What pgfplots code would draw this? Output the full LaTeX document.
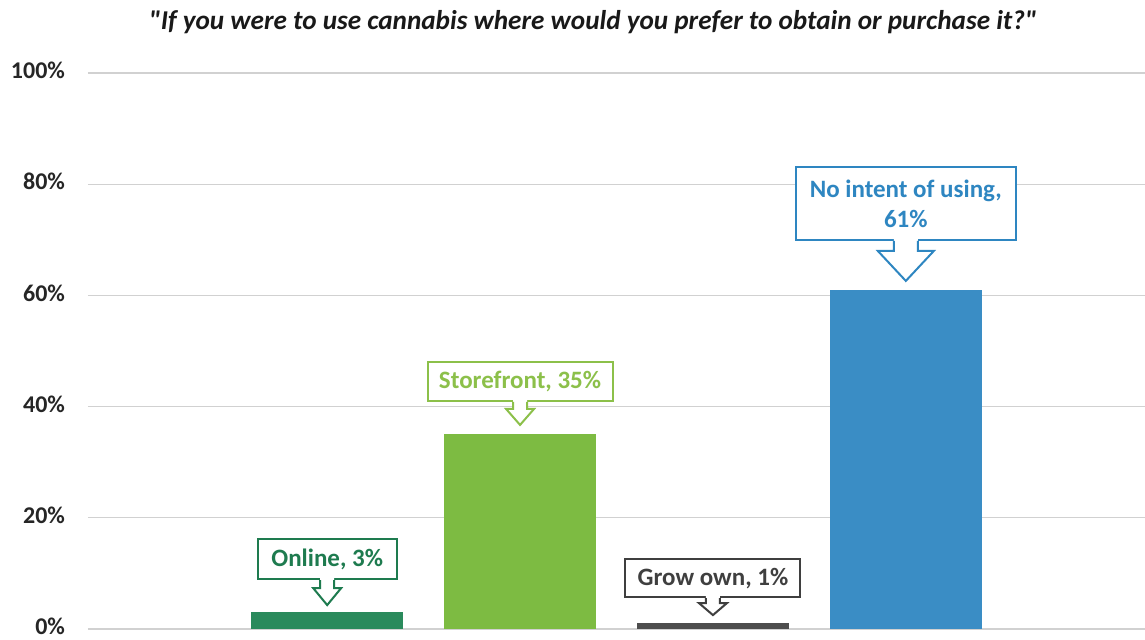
\documentclass[border=0pt]{standalone}
\usepackage{pgfplots}
\pgfplotsset{compat=1.18}
\usepackage{fontspec}
\setmainfont{Carlito}
\usetikzlibrary{calc}
\definecolor{cOnline}{HTML}{2A8A5C}
\definecolor{cStore}{HTML}{7DBB42}
\definecolor{cGrow}{HTML}{4D4D4D}
\definecolor{cNo}{HTML}{3A8DC5}
\definecolor{tOnline}{HTML}{1E7B4F}
\definecolor{tStore}{HTML}{8CC04A}
\definecolor{tGrow}{HTML}{3F3F3F}
\definecolor{tNo}{HTML}{2E86C1}
% #1 tip, #2 colour, #3 stem half width, #4 head half width, #5 head height, #6 stem height, #7 min width, #8 min height, #9 text
\newcommand\callout[9]{%
  \path (#1) ++(0,{#5+#6}) node[anchor=south, draw=#2, line width=1pt, fill=white,
     text=#2, font=\bfseries\fontsize{12.5}{15}\selectfont, align=center,
     minimum width=#7, minimum height=#8, inner sep=2pt] {#9};
  \fill[white] (#1) -- ++(-#4,#5) -- ++({#4-#3},0) -- ++(0,{#6+1.2}) -- ++({2*#3},0)
     -- ++(0,{-#6-1.2}) -- ++({#4-#3},0) -- cycle;
  \draw[#2, line width=1pt, line join=miter] ($(#1)+(-#3,{#5+#6})$) -- ++(0,-#6)
     -- ++({#3-#4},0) -- (#1) -- ++(#4,#5) -- ++({#3-#4},0) -- ++(0,#6);
}
\begin{document}
\begin{tikzpicture}[x=1pt,y=1pt]
\useasboundingbox (-44,-5.5) rectangle (528.5,314.5);
\begin{axis}[
  at={(0,0)}, anchor=south west,
  scale only axis, width=528.5pt, height=278pt,
  xmin=-1.24, xmax=4.24, ymin=0, ymax=100,
  axis line style={draw=none},
  major tick length=0pt,
  xtick=\empty,
  ytick={0,20,40,60,80,100},
  ymajorgrids,
  grid style={draw=black!18, line width=0.6pt},
  /pgf/number format/assume math mode=true,
  yticklabel={\pgfmathprintnumber{\tick}\%},
  yticklabel style={font=\bfseries\fontsize{12}{14}\selectfont, xshift=-8pt, yshift=1.2pt, text=black!85},
  clip=false,
]
\addplot[ybar, bar width=76pt, bar shift=0pt, fill=cOnline, draw=none] coordinates {(0,3)};
\addplot[ybar, bar width=76pt, bar shift=0pt, fill=cStore, draw=none] coordinates {(1,35)};
\addplot[ybar, bar width=76pt, bar shift=0pt, fill=cGrow, draw=none] coordinates {(2,1)};
\addplot[ybar, bar width=76pt, bar shift=0pt, fill=cNo, draw=none] coordinates {(3,61)};
\coordinate (t0) at (axis cs:0,4.3);
\coordinate (t1) at (axis cs:1,36.7);
\coordinate (t2) at (axis cs:2,2.5);
\coordinate (t3) at (axis cs:3,62.6);
\end{axis}
\callout{t0}{tOnline}{3.5}{7}{8.5}{4}{69.5pt}{20pt}{Online, 3\%}
\callout{t1}{tStore}{3.5}{7}{8}{3.5}{92.5pt}{19.5pt}{Storefront, 35\%}
\callout{t2}{tGrow}{3.5}{7}{6}{2.5}{87.5pt}{19pt}{Grow own, 1\%}
\callout{t3}{tNo}{6}{14}{15}{5}{110pt}{36.5pt}{No intent of using,\\61\%}
\node[font=\bfseries\itshape\fontsize{13.6}{16}\selectfont, text=black!90] at (252.5,303.5)
  {\textquotedbl If you were to use cannabis where would you prefer to obtain or purchase it?\textquotedbl};
\end{tikzpicture}
\end{document}
